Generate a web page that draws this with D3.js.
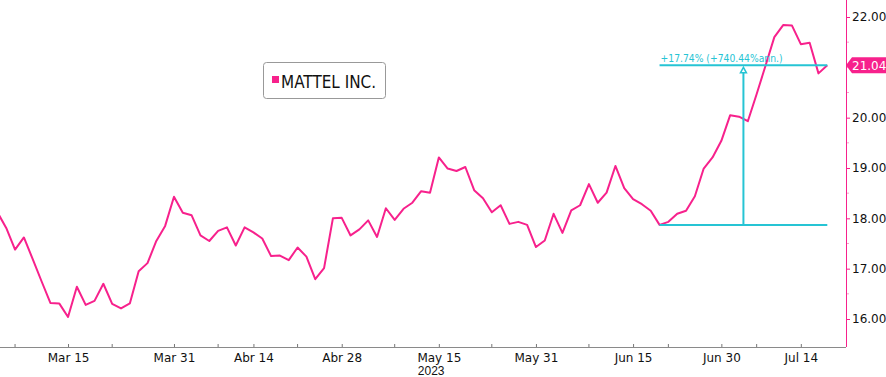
<!DOCTYPE html>
<html>
<head>
<meta charset="utf-8">
<script src="https://cdn.jsdelivr.net/npm/d3@7"></script>
<style>
  body { margin: 0; background: #fff; }
  svg { display: block; font-family: "DejaVu Sans", sans-serif; }
</style>
</head>
<body>
<div id="chart"></div>
<script>
// trading days Mar 3 - Jul 19 2023 (NYSE holidays skipped)
const startDate = "2023-03-03";
const endDate = "2023-07-19";
const holidays = ["2023-04-07", "2023-05-29", "2023-06-19", "2023-07-04"];

// MATTEL INC. closing prices, one per trading day
const prices = [
  18.12, 17.81, 17.38, 17.62, 17.19, 16.75, 16.32, 16.31, 16.04, 16.64,
  16.28, 16.36, 16.70, 16.30, 16.21, 16.31, 16.95, 17.11, 17.55, 17.85,
  18.43, 18.11, 18.06, 17.66, 17.55, 17.75, 17.82, 17.46, 17.82, 17.72,
  17.60, 17.25, 17.26, 17.17, 17.42, 17.24, 16.79, 17.01, 18.00, 18.01,
  17.66, 17.78, 17.96, 17.63, 18.20, 17.97, 18.19, 18.31, 18.54, 18.51,
  19.21, 18.99, 18.94, 19.02, 18.56, 18.40, 18.12, 18.26, 17.89, 17.93,
  17.87, 17.43, 17.56, 18.09, 17.71, 18.16, 18.26, 18.68, 18.31, 18.51,
  19.04, 18.60, 18.38, 18.28, 18.15, 17.87, 17.93, 18.09, 18.15, 18.44,
  18.99, 19.21, 19.54, 20.05, 20.02, 19.93, 20.47, 21.03, 21.60, 21.84,
  21.83, 21.46, 21.49, 20.88, 21.04
];

const majorTickDates = ["2023-03-15", "2023-03-31", "2023-04-14", "2023-04-28", "2023-05-15",
  "2023-05-31", "2023-06-15", "2023-06-30", "2023-07-14"];
const majorTickLabels = ["Mar 15", "Mar 31", "Abr 14", "Abr 28", "May 15",
  "May 31", "Jun 15", "Jun 30", "Jul 14"];
const minorTickDates = ["2023-03-07", "2023-03-22", "2023-04-10", "2023-04-21", "2023-05-08",
  "2023-05-23", "2023-06-08", "2023-06-22", "2023-07-07"];
const yearLabel = "2023";
// 21.00 sits under the last-price tag, so it is not labelled
const yTicks = [16, 17, 18, 19, 20, 22];
const yMinorTicks = [16.5, 17.5, 18.5, 19.5, 20.5, 21, 21.5];

const seriesName = "MATTEL INC.";
const measureFrom = "2023-06-21";
const measureTo = "2023-07-19";
const measureText = "+17.74% (+740.44%ann.)";

const pink = "#f7218c";
const cyan = "#26c4d4";

// build the trading day list
const parse = d3.utcParse("%Y-%m-%d");
const fmt = d3.utcFormat("%Y-%m-%d");
const days = d3.utcDay.range(parse(startDate), d3.utcDay.offset(parse(endDate), 1))
  .filter(d => d.getUTCDay() !== 0 && d.getUTCDay() !== 6 && !holidays.includes(fmt(d)))
  .map(fmt);
const idx = s => days.indexOf(s);
const data = days.map((d, i) => ({ i: i, date: d, v: prices[i] }));

const width = 886, height = 377;
const plotRight = 846, axisY = 347;

const svg = d3.select("#chart").append("svg")
  .attr("width", width)
  .attr("height", height);

const x = d3.scaleLinear()
  .domain([0, days.length - 1])
  .range([-2.6, 827.3]);

const y = d3.scaleLinear()
  .domain([16, 22])
  .range([319, 17]);

svg.append("clipPath").attr("id", "plot")
  .append("rect").attr("x", 0).attr("y", 0).attr("width", plotRight).attr("height", axisY);

// x axis
const xAxis = d3.axisBottom(x)
  .tickValues(majorTickDates.map(idx))
  .tickFormat((d, i) => majorTickLabels[i])
  .tickSizeInner(-3)
  .tickSizeOuter(0)
  .tickPadding(6);

const gx = svg.append("g")
  .attr("transform", `translate(0,${axisY})`)
  .call(xAxis);
gx.select(".domain").attr("stroke", "#8a8a8a").attr("d", `M0,0.5H${plotRight}`);
gx.selectAll(".tick line").attr("stroke", "#777");
gx.selectAll("text").attr("font-size", 12).attr("fill", "#111").attr("font-family", "DejaVu Sans");

gx.selectAll(".minor")
  .data(minorTickDates.map(idx))
  .enter().append("line")
  .attr("class", "minor")
  .attr("x1", d => x(d)).attr("x2", d => x(d))
  .attr("y1", 0).attr("y2", -3)
  .attr("stroke", "#777");

gx.append("text")
  .attr("x", x(idx("2023-05-15")) - 21)
  .attr("y", 28)
  .attr("font-size", 12)
  .attr("fill", "#111")
  .attr("text-anchor", "start")
  .text(yearLabel);

// y axis on the right
const yAxis = d3.axisRight(y)
  .tickValues(yTicks)
  .tickFormat(d3.format(".2f"))
  .tickSizeInner(4)
  .tickSizeOuter(0)
  .tickPadding(2);

const gy = svg.append("g")
  .attr("transform", `translate(${plotRight},0)`)
  .call(yAxis);
gy.select(".domain").attr("stroke", pink).attr("d", `M0.5,0V${axisY}`);
gy.selectAll(".tick line").attr("stroke", pink);
gy.selectAll("text").attr("font-size", 12).attr("fill", "#111").attr("font-family", "DejaVu Sans");

gy.selectAll(".minor")
  .data(yMinorTicks)
  .enter().append("line")
  .attr("class", "minor")
  .attr("x1", 1).attr("x2", 3)
  .attr("y1", d => y(d)).attr("y2", d => y(d))
  .attr("stroke", "#f5a3cb");

// price line
const line = d3.line()
  .x(d => x(d.i))
  .y(d => y(d.v));

svg.append("path")
  .datum(data)
  .attr("clip-path", "url(#plot)")
  .attr("fill", "none")
  .attr("stroke", pink)
  .attr("stroke-width", 2)
  .attr("stroke-linejoin", "round")
  .attr("d", line);

// measurement annotation
const i0 = idx(measureFrom), i1 = idx(measureTo);
const vLow = prices[i0], vHigh = prices[i1];
const ann = svg.append("g").attr("stroke", cyan).attr("stroke-width", 2);
ann.append("line")
  .attr("x1", x(i0)).attr("x2", x(i1))
  .attr("y1", y(vLow)).attr("y2", y(vLow));
ann.append("line")
  .attr("x1", x(i0)).attr("x2", x(i1))
  .attr("y1", y(vHigh)).attr("y2", y(vHigh));
const xm = x((i0 + i1) / 2);
ann.append("line")
  .attr("x1", xm).attr("x2", xm)
  .attr("y1", y(vLow)).attr("y2", y(vHigh) + 7);
ann.append("path")
  .attr("d", `M${xm - 3},${y(vHigh) + 7.5}L${xm},${y(vHigh) + 2}L${xm + 3},${y(vHigh) + 7.5}Z`)
  .attr("fill", "#fff")
  .attr("stroke-width", 1.5);

svg.append("text")
  .attr("x", x(i0) + 1)
  .attr("y", y(vHigh) - 3)
  .attr("font-size", 10)
  .attr("fill", cyan)
  .attr("textLength", 122)
  .attr("lengthAdjust", "spacingAndGlyphs")
  .text(measureText);

// last price tag
const lastY = y(prices[prices.length - 1]);
svg.append("path")
  .attr("d", `M${plotRight},${lastY}L${plotRight + 6},${lastY - 8}H${width}V${lastY + 8}H${plotRight + 6}Z`)
  .attr("fill", pink);
svg.append("text")
  .attr("x", plotRight + 6)
  .attr("y", lastY + 4.5)
  .attr("font-size", 12)
  .attr("fill", "#fff")
  .text(d3.format(".2f")(prices[prices.length - 1]));

// legend
const lg = svg.append("g").attr("transform", "translate(263,62)");
lg.append("rect")
  .attr("x", 0.5).attr("y", 0.5)
  .attr("width", 122).attr("height", 36)
  .attr("rx", 3)
  .attr("fill", "#fff")
  .attr("stroke", "#999");
lg.append("rect")
  .attr("x", 9).attr("y", 14)
  .attr("width", 7).attr("height", 7)
  .attr("fill", pink);
lg.append("text")
  .attr("x", 18)
  .attr("y", 26)
  .attr("font-size", 17)
  .attr("fill", "#111")
  .attr("textLength", 95)
  .attr("lengthAdjust", "spacingAndGlyphs")
  .text(seriesName);
</script>
</body>
</html>
